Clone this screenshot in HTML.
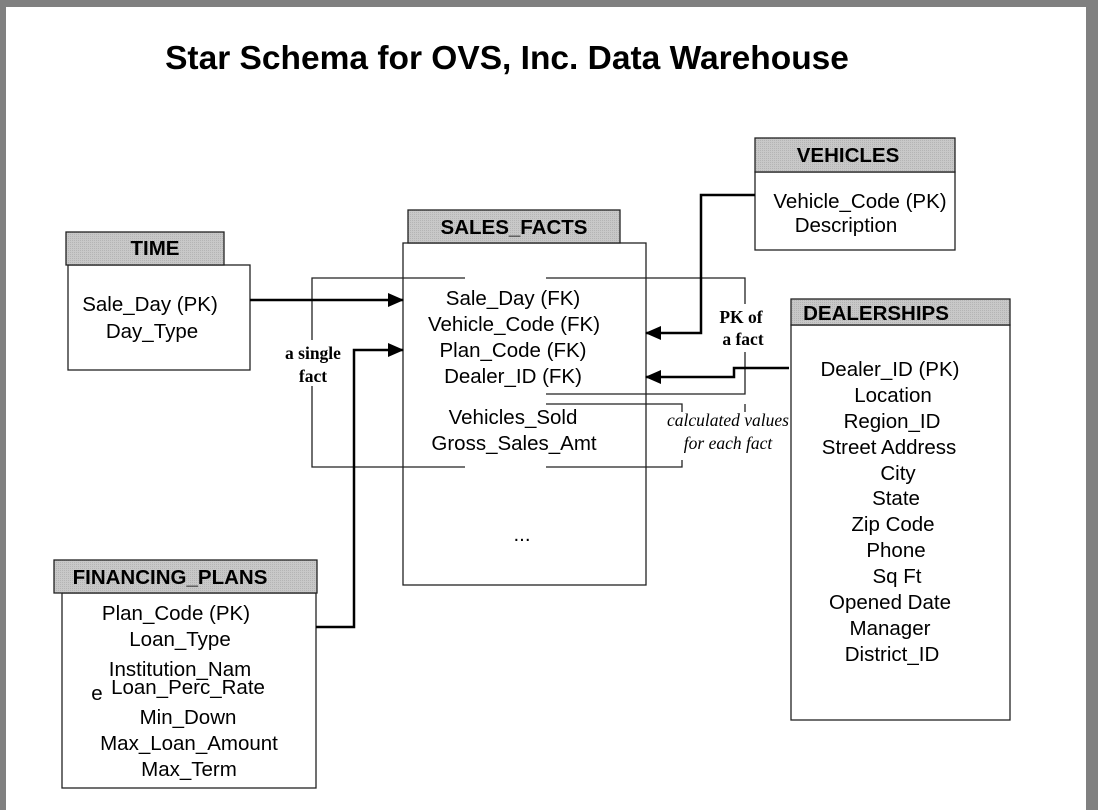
<!DOCTYPE html>
<html><head><style>
body{margin:0;width:1098px;height:810px;background:#808080;overflow:hidden}
#pg{position:absolute;left:6px;top:7px;width:1080px;height:803px;background:#fff}
svg{position:absolute;left:0;top:0}
text{font-family:"Liberation Sans",sans-serif;fill:#000}
.h{font-weight:bold;font-size:20.5px}
.b{font-size:20.5px}
.s{font-family:"Liberation Serif",serif;font-weight:bold;font-size:17.5px}
.i{font-family:"Liberation Serif",serif;font-style:italic;font-size:17.5px}
</style></head><body><div id="pg"></div>
<svg width="1098" height="810" viewBox="0 0 1098 810">
<defs><pattern id="g" width="2" height="2" patternUnits="userSpaceOnUse"><rect width="2" height="2" fill="#c8c8c8"/><rect width="1" height="1" fill="#b4b4b4"/></pattern>
<marker id="a" markerWidth="16" markerHeight="14" refX="15" refY="7" orient="auto" markerUnits="userSpaceOnUse"><path d="M0,0 L16,7 L0,14z" fill="#000"/></marker></defs>
<text x="507" y="69" text-anchor="middle" style="font-weight:bold;font-size:33.5px">Star Schema for OVS, Inc. Data Warehouse</text>
<g fill="none" stroke="#222" stroke-width="1.3">
<rect x="68" y="265" width="182" height="105" fill="#fff"/>
<rect x="66" y="232" width="158" height="33" fill="url(#g)"/>
<rect x="403" y="243" width="243" height="342" fill="#fff"/>
<rect x="408" y="210" width="212" height="33" fill="url(#g)"/>
<rect x="755" y="172" width="200" height="78" fill="#fff"/>
<rect x="755" y="138" width="200" height="34" fill="url(#g)"/>
<rect x="791" y="325" width="219" height="395" fill="#fff"/>
<rect x="791" y="299" width="219" height="26" fill="url(#g)"/>
<rect x="62" y="593" width="254" height="195" fill="#fff"/>
<rect x="54" y="560" width="263" height="33" fill="url(#g)"/>
<path d="M465,278 H312 V340 M312,386 V467 H465 M546,467 H682 V460 M682,412 V404 H546 M546,278 H745 V304 M745,352 V394 H546 M745,404 V412"/>
</g>
<g fill="none" stroke="#000" stroke-width="2.5">
<path d="M250,300 H403" marker-end="url(#a)"/>
<path d="M316,627 H354 V350 H403" marker-end="url(#a)"/>
<path d="M755,195 H701 V333 H646" marker-end="url(#a)"/>
<path d="M789,368 H734 V377 H646" marker-end="url(#a)"/>
</g>
<text class="h" x="155" y="255" text-anchor="middle">TIME</text>
<text class="b" x="150" y="311" text-anchor="middle">Sale_Day (PK)</text>
<text class="b" x="152" y="338" text-anchor="middle">Day_Type</text>
<text class="h" x="514" y="234" text-anchor="middle">SALES_FACTS</text>
<text class="b" x="513" y="305" text-anchor="middle">Sale_Day (FK)</text>
<text class="b" x="514" y="331" text-anchor="middle">Vehicle_Code (FK)</text>
<text class="b" x="513" y="357" text-anchor="middle">Plan_Code (FK)</text>
<text class="b" x="513" y="383" text-anchor="middle">Dealer_ID (FK)</text>
<text class="b" x="513" y="424" text-anchor="middle">Vehicles_Sold</text>
<text class="b" x="514" y="450" text-anchor="middle">Gross_Sales_Amt</text>
<text class="b" x="522" y="541" text-anchor="middle">...</text>
<text class="h" x="848" y="162" text-anchor="middle">VEHICLES</text>
<text class="b" x="860" y="208" text-anchor="middle">Vehicle_Code (PK)</text>
<text class="b" x="846" y="232" text-anchor="middle">Description</text>
<text class="h" x="876" y="320" text-anchor="middle">DEALERSHIPS</text>
<g text-anchor="middle">
<text class="b" x="890" y="376">Dealer_ID (PK)</text>
<text class="b" x="893" y="402">Location</text>
<text class="b" x="892" y="428">Region_ID</text>
<text class="b" x="889" y="454">Street Address</text>
<text class="b" x="898" y="480">City</text>
<text class="b" x="896" y="505">State</text>
<text class="b" x="893" y="531">Zip Code</text>
<text class="b" x="896" y="557">Phone</text>
<text class="b" x="897" y="583">Sq Ft</text>
<text class="b" x="890" y="609">Opened Date</text>
<text class="b" x="890" y="635">Manager</text>
<text class="b" x="892" y="661">District_ID</text>
</g>
<text class="h" x="170" y="584" text-anchor="middle">FINANCING_PLANS</text>
<g text-anchor="middle">
<text class="b" x="176" y="620">Plan_Code (PK)</text>
<text class="b" x="180" y="646">Loan_Type</text>
<text class="b" x="180" y="676">Institution_Nam</text>
<text class="b" x="97" y="700">e</text>
<text class="b" x="188" y="694">Loan_Perc_Rate</text>
<text class="b" x="188" y="724">Min_Down</text>
<text class="b" x="189" y="750">Max_Loan_Amount</text>
<text class="b" x="189" y="776">Max_Term</text>
</g>
<text class="s" x="313" y="359" text-anchor="middle">a single</text>
<text class="s" x="313" y="382" text-anchor="middle">fact</text>
<text class="s" x="741" y="323" text-anchor="middle">PK of</text>
<text class="s" x="743" y="345" text-anchor="middle">a fact</text>
<text class="i" x="728" y="426" text-anchor="middle">calculated values</text>
<text class="i" x="728" y="449" text-anchor="middle">for each fact</text>
</svg></body></html>
